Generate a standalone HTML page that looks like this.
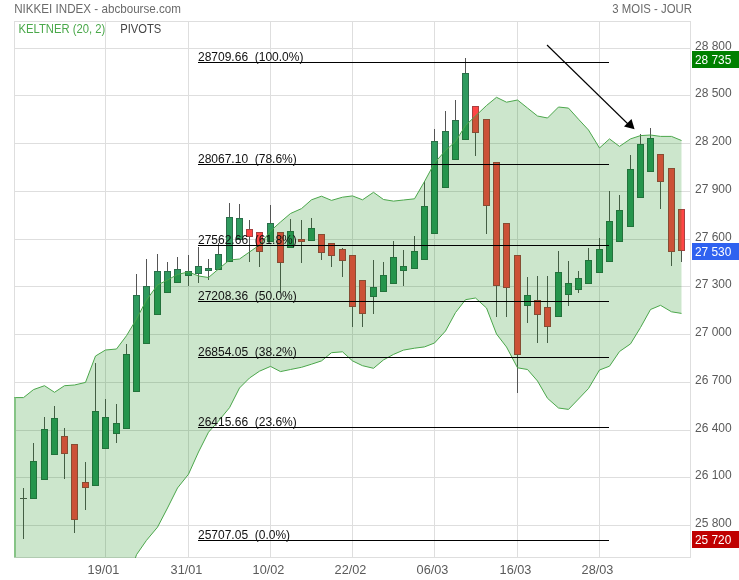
<!DOCTYPE html><html><head><meta charset="utf-8"><style>html,body{margin:0;padding:0;background:#fff;}
body{width:739px;height:580px;position:relative;overflow:hidden;font-family:"Liberation Sans",sans-serif;}
text{font-family:"Liberation Sans",sans-serif;}
.fib{font-size:12px;fill:#111;}
.ax{font-size:12px;fill:#5a5a5a;}
.bx{font-size:12.5px;fill:#fff;}
.xl{font-size:12px;fill:#5a5a5a;}
.ttl{font-size:12px;fill:#6a6a6a;}
.kel{font-size:12px;fill:#4aa84a;}
.piv{font-size:12px;fill:#444;}
</style></head><body><svg width="739" height="580" viewBox="0 0 739 580" style="position:absolute;left:0;top:0;will-change:transform">
<defs><clipPath id="plot"><rect x="14" y="21" width="676" height="537"/></clipPath></defs>
<path d="M14.5 21V558M105.5 21V558M188.5 21V558M270.5 21V558M352.5 21V558M434.5 21V558M517.5 21V558M599.5 21V558M690.5 21V558M14 21.5H691M14 48.5H691M14 95.5H691M14 143.5H691M14 191.5H691M14 239.5H691M14 286.5H691M14 334.5H691M14 382.5H691M14 430.5H691M14 477.5H691M14 525.5H691M14 557.5H691" stroke="#dedede" stroke-width="1" fill="none" shape-rendering="crispEdges"/>
<path d="M23.5 488.0V538.5M33.5 442.7V499.0M44.5 416.8V480.0M54.5 406.0V455.0M64.5 428.0V479.2M74.5 444.0V533.2M85.5 461.7V510.3M95.5 362.6V486.0M105.5 398.8V449.0M116.5 404.4V442.5M126.5 344.0V429.0M136.5 273.5V392.0M146.5 258.8V344.0M157.5 253.8V315.0M167.5 262.0V293.0M177.5 257.0V283.0M188.5 254.8V286.1M198.5 247.3V283.2M208.5 258.8V279.5M218.5 243.0V270.0M229.5 203.0V262.0M239.5 204.0V240.0M249.5 220.0V261.5M259.5 232.0V267.2M270.5 205.0V242.0M280.5 232.0V292.0M290.5 219.0V248.0M301.5 220.0V262.5M311.5 217.8V241.0M321.5 234.0V260.2M331.5 243.0V266.5M342.5 248.0V277.3M352.5 254.8V327.4M362.5 280.0V327.4M373.5 259.7V314.3M383.5 262.0V292.0M393.5 240.8V284.0M403.5 250.0V286.1M414.5 235.8V269.0M424.5 180.8V260.0M434.5 129.0V234.0M445.5 111.4V188.0M455.5 100.0V160.0M465.5 58.0V140.0M475.5 106.5V155.8M486.5 118.6V233.7M496.5 162.0V316.5M506.5 222.7V316.5M517.5 254.8V392.9M527.5 277.0V323.4M537.5 276.0V343.2M547.5 276.0V343.2M558.5 250.6V317.0M568.5 261.2V306.3M578.5 271.0V293.0M588.5 248.3V284.0M599.5 237.5V273.0M609.5 191.3V262.0M619.5 194.5V242.0M630.5 154.6V227.0M640.5 134.0V198.0M650.5 128.4V172.0M660.5 154.0V209.2M671.5 168.4V266.0M681.5 209.0V262.3M20 498.5H27" stroke="#555" stroke-width="1" fill="none" shape-rendering="crispEdges"/>
<g fill="#2f9a5f" stroke="#2b6e4a" stroke-width="1" shape-rendering="crispEdges"><rect x="30.5" y="461.5" width="6" height="37"/><rect x="41.5" y="429.5" width="6" height="50"/><rect x="51.5" y="418.5" width="6" height="36"/><rect x="92.5" y="411.5" width="6" height="74"/><rect x="102.5" y="417.5" width="6" height="31"/><rect x="113.5" y="423.5" width="6" height="10"/><rect x="123.5" y="354.5" width="6" height="74"/><rect x="133.5" y="295.5" width="6" height="96"/><rect x="143.5" y="286.5" width="6" height="57"/><rect x="154.5" y="271.5" width="6" height="43"/><rect x="164.5" y="271.5" width="6" height="21"/><rect x="174.5" y="269.5" width="6" height="13"/><rect x="185.5" y="271.5" width="6" height="4"/><rect x="195.5" y="266.5" width="6" height="7"/><rect x="205.5" y="268.5" width="6" height="2"/><rect x="215.5" y="254.5" width="6" height="15"/><rect x="226.5" y="217.5" width="6" height="44"/><rect x="236.5" y="218.5" width="6" height="21"/><rect x="267.5" y="223.5" width="6" height="18"/><rect x="287.5" y="231.5" width="6" height="16"/><rect x="308.5" y="228.5" width="6" height="12"/><rect x="370.5" y="287.5" width="6" height="9"/><rect x="380.5" y="275.5" width="6" height="16"/><rect x="390.5" y="257.5" width="6" height="26"/><rect x="400.5" y="266.5" width="6" height="4"/><rect x="411.5" y="251.5" width="6" height="17"/><rect x="421.5" y="206.5" width="6" height="53"/><rect x="431.5" y="141.5" width="6" height="92"/><rect x="442.5" y="131.5" width="6" height="56"/><rect x="452.5" y="120.5" width="6" height="39"/><rect x="462.5" y="73.5" width="6" height="66"/><rect x="524.5" y="295.5" width="6" height="10"/><rect x="555.5" y="272.5" width="6" height="44"/><rect x="565.5" y="283.5" width="6" height="11"/><rect x="575.5" y="278.5" width="6" height="11"/><rect x="585.5" y="260.5" width="6" height="23"/><rect x="596.5" y="249.5" width="6" height="23"/><rect x="606.5" y="221.5" width="6" height="40"/><rect x="616.5" y="210.5" width="6" height="31"/><rect x="627.5" y="169.5" width="6" height="57"/><rect x="637.5" y="144.5" width="6" height="53"/><rect x="647.5" y="138.5" width="6" height="33"/></g>
<g fill="#ff4545" stroke="#a84040" stroke-width="1" shape-rendering="crispEdges"><rect x="61.5" y="436.5" width="6" height="17"/><rect x="71.5" y="444.5" width="6" height="75"/><rect x="82.5" y="482.5" width="6" height="5"/><rect x="246.5" y="229.5" width="6" height="7"/><rect x="256.5" y="232.5" width="6" height="19"/><rect x="277.5" y="232.5" width="6" height="30"/><rect x="298.5" y="239.5" width="6" height="2"/><rect x="318.5" y="234.5" width="6" height="18"/><rect x="328.5" y="243.5" width="6" height="12"/><rect x="339.5" y="249.5" width="6" height="11"/><rect x="349.5" y="255.5" width="6" height="51"/><rect x="359.5" y="280.5" width="6" height="33"/><rect x="472.5" y="106.5" width="6" height="26"/><rect x="483.5" y="119.5" width="6" height="86"/><rect x="493.5" y="162.5" width="6" height="123"/><rect x="503.5" y="223.5" width="6" height="64"/><rect x="514.5" y="255.5" width="6" height="99"/><rect x="534.5" y="300.5" width="6" height="14"/><rect x="544.5" y="307.5" width="6" height="19"/><rect x="657.5" y="154.5" width="6" height="27"/><rect x="668.5" y="168.5" width="6" height="83"/><rect x="678.5" y="209.5" width="6" height="41"/></g>
<g clip-path="url(#plot)">
<polygon points="14.0,397.6 23.5,397.6 33.5,389.6 44.5,385.7 54.5,392.3 64.5,385.7 74.5,385.0 85.5,382.4 95.5,356.0 105.5,350.0 116.5,349.0 126.5,335.7 136.5,319.0 146.5,300.0 157.5,285.0 167.5,280.0 177.5,274.5 188.5,271.9 198.5,276.0 208.5,277.5 218.5,269.0 229.5,260.0 239.5,259.0 249.5,252.0 259.5,245.0 270.5,231.0 280.5,222.0 290.5,213.5 301.5,208.6 311.5,199.8 321.5,196.2 331.5,200.4 342.5,197.2 352.5,195.9 362.5,199.8 373.5,192.3 383.5,199.5 393.5,201.1 403.5,200.0 414.5,198.8 424.5,181.5 434.5,163.0 445.5,150.5 455.5,141.5 465.5,125.5 475.5,116.0 486.5,105.5 496.5,97.3 506.5,102.2 517.5,100.0 527.5,108.0 537.5,116.0 547.5,118.0 558.5,107.0 568.5,108.1 578.5,119.2 588.5,130.0 599.5,148.0 609.5,138.9 619.5,146.4 630.5,138.9 640.5,135.6 650.5,135.0 660.5,136.4 671.5,136.4 681.5,140.5 681.5,313.4 671.5,311.8 660.5,305.3 650.5,309.5 640.5,327.5 630.5,343.9 619.5,351.5 609.5,366.2 599.5,370.0 588.5,388.5 578.5,399.0 568.5,409.4 558.5,408.0 547.5,398.3 537.5,381.0 527.5,369.5 517.5,367.8 506.5,347.0 496.5,334.0 486.5,308.0 475.5,298.0 465.5,299.7 455.5,312.6 445.5,331.0 434.5,343.0 424.5,346.9 414.5,348.2 403.5,350.1 393.5,354.4 383.5,359.9 373.5,368.3 362.5,365.7 352.5,360.9 342.5,351.8 331.5,352.7 321.5,360.9 311.5,364.2 301.5,367.3 290.5,369.5 280.5,371.6 270.5,366.4 259.5,371.2 249.5,378.0 239.5,388.0 229.5,407.7 218.5,421.0 208.5,432.2 198.5,452.0 188.5,474.2 177.5,488.0 167.5,508.0 157.5,527.2 146.5,540.3 136.5,554.7 126.5,585.0 116.5,570.0 105.5,575.0 95.5,580.0 85.5,590.0 74.5,600.0 64.5,620.0 54.5,640.0 44.5,660.0 33.5,680.0 23.5,700.0 14.0,720.0" fill="rgb(0,128,0)" fill-opacity="0.2"/>
<polyline points="14.0,397.6 23.5,397.6 33.5,389.6 44.5,385.7 54.5,392.3 64.5,385.7 74.5,385.0 85.5,382.4 95.5,356.0 105.5,350.0 116.5,349.0 126.5,335.7 136.5,319.0 146.5,300.0 157.5,285.0 167.5,280.0 177.5,274.5 188.5,271.9 198.5,276.0 208.5,277.5 218.5,269.0 229.5,260.0 239.5,259.0 249.5,252.0 259.5,245.0 270.5,231.0 280.5,222.0 290.5,213.5 301.5,208.6 311.5,199.8 321.5,196.2 331.5,200.4 342.5,197.2 352.5,195.9 362.5,199.8 373.5,192.3 383.5,199.5 393.5,201.1 403.5,200.0 414.5,198.8 424.5,181.5 434.5,163.0 445.5,150.5 455.5,141.5 465.5,125.5 475.5,116.0 486.5,105.5 496.5,97.3 506.5,102.2 517.5,100.0 527.5,108.0 537.5,116.0 547.5,118.0 558.5,107.0 568.5,108.1 578.5,119.2 588.5,130.0 599.5,148.0 609.5,138.9 619.5,146.4 630.5,138.9 640.5,135.6 650.5,135.0 660.5,136.4 671.5,136.4 681.5,140.5" fill="none" stroke="#4aa64a" stroke-width="1"/>
<polyline points="23.5,700.0 33.5,680.0 44.5,660.0 54.5,640.0 64.5,620.0 74.5,600.0 85.5,590.0 95.5,580.0 105.5,575.0 116.5,570.0 126.5,585.0 136.5,554.7 146.5,540.3 157.5,527.2 167.5,508.0 177.5,488.0 188.5,474.2 198.5,452.0 208.5,432.2 218.5,421.0 229.5,407.7 239.5,388.0 249.5,378.0 259.5,371.2 270.5,366.4 280.5,371.6 290.5,369.5 301.5,367.3 311.5,364.2 321.5,360.9 331.5,352.7 342.5,351.8 352.5,360.9 362.5,365.7 373.5,368.3 383.5,359.9 393.5,354.4 403.5,350.1 414.5,348.2 424.5,346.9 434.5,343.0 445.5,331.0 455.5,312.6 465.5,299.7 475.5,298.0 486.5,308.0 496.5,334.0 506.5,347.0 517.5,367.8 527.5,369.5 537.5,381.0 547.5,398.3 558.5,408.0 568.5,409.4 578.5,399.0 588.5,388.5 599.5,370.0 609.5,366.2 619.5,351.5 630.5,343.9 640.5,327.5 650.5,309.5 660.5,305.3 671.5,311.8 681.5,313.4" fill="none" stroke="#4aa64a" stroke-width="1"/>
<path d="M15 397.6V557" stroke="#86c486" stroke-width="2"/>
</g>
<path d="M198 62.5H609M198 164.5H609M198 245.5H609M198 301.5H609M198 357.5H609M198 427.5H609M198 540.5H609" stroke="#000" stroke-width="1.2" fill="none"/>
<text x="198" y="61" class="fib">28709.66&#160;&#160;(100.0%)</text>
<text x="198" y="163" class="fib">28067.10&#160;&#160;(78.6%)</text>
<text x="198" y="244" class="fib">27562.66&#160;&#160;(61.8%)</text>
<text x="198" y="300" class="fib">27208.36&#160;&#160;(50.0%)</text>
<text x="198" y="356" class="fib">26854.05&#160;&#160;(38.2%)</text>
<text x="198" y="426" class="fib">26415.66&#160;&#160;(23.6%)</text>
<text x="198" y="539" class="fib">25707.05&#160;&#160;(0.0%)</text>
<path d="M547 45 L628.5 124.5" stroke="#000" stroke-width="1.1" fill="none"/>
<path d="M634.6 129.2 L631.5 119 L624 126.4 Z" fill="#000"/>
<text x="695" y="49.5" class="ax">28 800</text>
<text x="695" y="96.5" class="ax">28 500</text>
<text x="695" y="144.5" class="ax">28 200</text>
<text x="695" y="192.5" class="ax">27 900</text>
<text x="695" y="240.5" class="ax">27 600</text>
<text x="695" y="287.5" class="ax">27 300</text>
<text x="695" y="335.5" class="ax">27 000</text>
<text x="695" y="383.5" class="ax">26 700</text>
<text x="695" y="431.5" class="ax">26 400</text>
<text x="695" y="478.5" class="ax">26 100</text>
<text x="695" y="526.5" class="ax">25 800</text>
<rect x="692" y="51" width="47" height="17" fill="#008000"/>
<text transform="translate(695,64.1) scale(0.95,1)" class="bx">28 735</text>
<rect x="692" y="243" width="47" height="17" fill="#2f62f0"/>
<text transform="translate(695,256.1) scale(0.95,1)" class="bx">27 530</text>
<rect x="692" y="531" width="47" height="17" fill="#c00000"/>
<text transform="translate(695,544.1) scale(0.95,1)" class="bx">25 720</text>
<text transform="translate(103.5,574) scale(1.06,1)" class="xl" text-anchor="middle">19/01</text>
<text transform="translate(186.5,574) scale(1.06,1)" class="xl" text-anchor="middle">31/01</text>
<text transform="translate(268.5,574) scale(1.06,1)" class="xl" text-anchor="middle">10/02</text>
<text transform="translate(350.5,574) scale(1.06,1)" class="xl" text-anchor="middle">22/02</text>
<text transform="translate(432.5,574) scale(1.06,1)" class="xl" text-anchor="middle">06/03</text>
<text transform="translate(515.5,574) scale(1.06,1)" class="xl" text-anchor="middle">16/03</text>
<text transform="translate(597.5,574) scale(1.06,1)" class="xl" text-anchor="middle">28/03</text>
<text transform="translate(14.2,13) scale(0.97,1)" class="ttl">NIKKEI INDEX - abcbourse.com</text>
<text transform="translate(692,13) scale(0.95,1)" class="ttl" text-anchor="end">3 MOIS - JOUR</text>
<text transform="translate(18.5,33) scale(0.938,1)" class="kel">KELTNER (20, 2)</text>
<text transform="translate(120.2,33) scale(0.936,1)" class="piv">PIVOTS</text>
</svg></body></html>
